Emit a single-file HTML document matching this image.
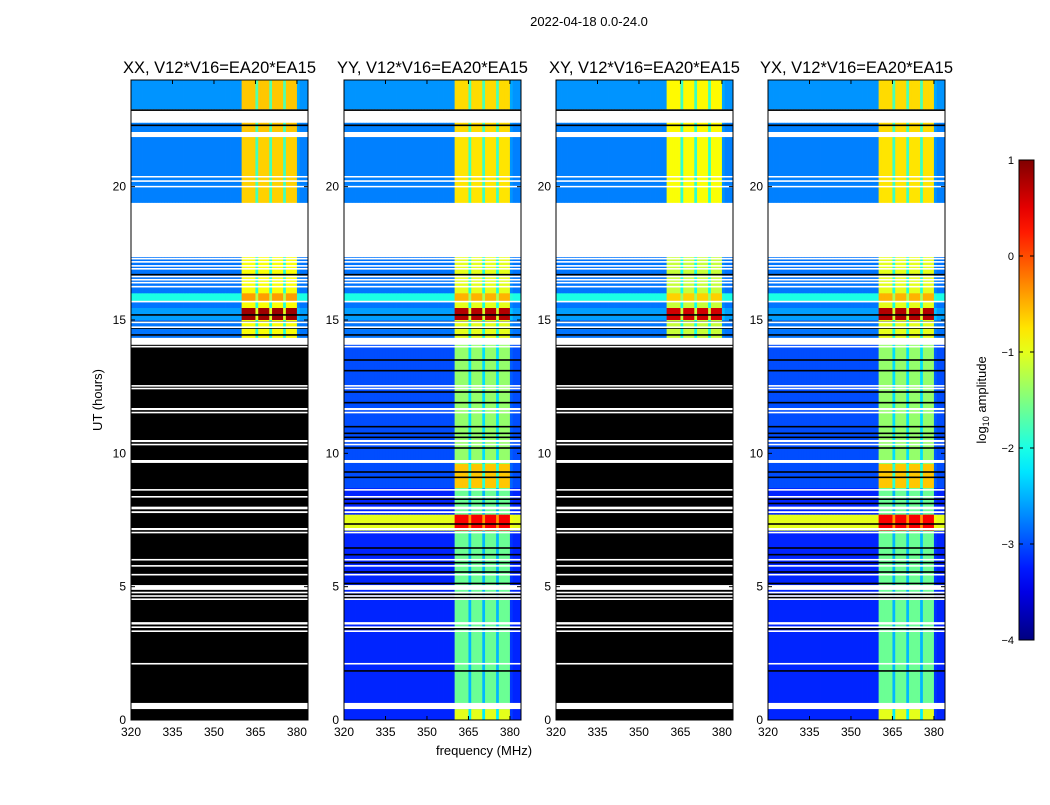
<!DOCTYPE html>
<html><head><meta charset="utf-8">
<style>
body{margin:0;background:#fff;}
svg text{font-family:"Liberation Sans",sans-serif;}
</style></head>
<body>
<svg id="fig" width="1050" height="800" xmlns="http://www.w3.org/2000/svg">
<rect width="1050" height="800" fill="#fff"/>
<text x="589" y="26" font-size="13" text-anchor="middle">2022-04-18 0.0-24.0</text>
<text transform="translate(102,400) rotate(-90)" font-size="13" text-anchor="middle">UT (hours)</text>
<text x="484" y="755" font-size="13" text-anchor="middle">frequency (MHz)</text>
<g id="panels"></g>
<g id="cbar"></g>
</svg>
<script>
const NS="http://www.w3.org/2000/svg";
// ---- data ----
const panelTitles=["XX, V12*V16=EA20*EA15","YY, V12*V16=EA20*EA15","XY, V12*V16=EA20*EA15","YX, V12*V16=EA20*EA15"];
const panelLeft=[131,344,556,768];
const panelBlackLow=[true,false,true,false];
const panelBandShift=[0.1,0,-0.15,0];
const freqTicks=[320,335,350,365,380];
const timeTicks=[0,5,10,15,20];
const cbarTicks=[1,0,-1,-2,-3,-4];
// spectral shape per 1 MHz channel 320..383 (0 = background, 1 = RFI band)
const bandShape=[0,0,0,0,0,0,0,0,0,0, 0,0,0,0,0,0,0,0,0,0, 0,0,0,0,0,0,0,0,0,0, 0,0,0,0,0,0,0,0,0,0,
 1,1,1,1,1,0.45,1,1,1,1, 0.45,1,1,1,1,0.45,1,1,1,1, 0.05,0,0,0];
// data segments: [t0, t1, background log-amp, band log-amp]
const segT0=[0, 0,   7.1, 8.7, 9.6, 14.3, 15.7, 15.0, 19.39, 22.05, 22.9];
const segT1=[14.3,0.4,7.7, 9.6, 14.3,17.36,16.0, 15.45,22.0, 22.4, 24];
const segBg=[-3.2,-3.2,-1.0,-3.0,-3.0,-2.8,-2.0,-2.6,-2.75,-2.75,-2.65];
const segBand=[-1.6,-1.0,0.4,-0.6,-1.4,-1.0,-0.5,0.75,-0.75,-0.7,-0.7];
// flagged (white) time ranges
const whiteT0=[0.41,2.08,3.30,3.45,3.58,4.50,4.62,4.75,4.88,5.42,5.75,5.98,7.00,7.12,7.76,7.90,8.34,8.60,9.64,10.30,10.42,11.50,11.62,12.40,12.50,13.97,14.07,14.70,14.88,15.66,16.22,16.37,16.48,16.60,16.89,17.00,17.15,17.27,17.36,19.98,20.18,20.36,21.86,22.40];
const whiteT1=[0.64,2.14,3.36,3.51,3.67,4.56,4.68,4.81,5.06,5.48,5.81,6.04,7.06,7.20,7.83,8.00,8.40,8.66,9.75,10.36,10.50,11.56,11.70,12.46,12.56,14.03,14.33,14.76,14.94,15.72,16.28,16.43,16.54,16.66,16.95,17.06,17.21,17.33,19.39,20.03,20.24,20.40,22.05,22.65];
// thin black (zero) time lines
const blackT=[1.84,3.42,4.59,4.71,5.12,5.55,5.9,6.2,6.45,7.35,8.12,8.28,9.1,9.3,10.2,10.6,10.75,11.0,11.9,12.3,13.1,13.5,14.44,14.7,14.92,15.19,16.7,22.3,22.87];

// ---- geometry ----
const topY=80,botY=720,pw=177;
const fMin=320,fMax=384;
function yOf(t){return botY-(t/24)*(botY-topY);}
function xOf(p,f){return panelLeft[p]+(f-fMin)/(fMax-fMin)*pw;}
function jet(v){let x=(v+4)/5;x=Math.max(0,Math.min(1,x));
 const c=a=>Math.round(255*Math.max(0,Math.min(1,1.5-Math.abs(4*x-a))));
 return `rgb(${c(3)},${c(2)},${c(1)})`;}
function mk(tag,attrs,parent){const e=document.createElementNS(NS,tag);for(const k in attrs)e.setAttribute(k,attrs[k]);parent.appendChild(e);return e;}

const G=document.getElementById('panels');
for(let p=0;p<4;p++){
 const g=mk('g',{},G);
 
 
 const L=panelLeft[p];
 const clip=mk('clipPath',{id:'c'+p},g);mk('rect',{x:L,y:topY,width:pw,height:botY-topY},clip);
 const hm=mk('g',{'clip-path':'url(#c'+p+')'},g);
 
 
 for(let s=0;s<segT0.length;s++){
  const y0=yOf(segT1[s]),y1=yOf(segT0[s]);
  for(let c=0;c<bandShape.length;c++){
   const f=fMin+c;
   const band=segBand[s]+panelBandShift[p];
   const v=segBg[s]+bandShape[c]*(band-segBg[s]);
   const r=mk('rect',{x:xOf(p,f),y:y0,width:xOf(p,f+1)-xOf(p,f)+0.4,height:y1-y0,fill:jet(v)},hm);
   
   
  }
 }
 if(panelBlackLow[p]){mk('rect',{x:L,y:yOf(14.3),width:pw,height:yOf(0)-yOf(14.3),fill:'#000'},hm);}
 for(const t of blackT){mk('rect',{x:L,y:yOf(t)-0.8,width:pw,height:1.6,fill:'#000'},hm);}
 for(let i=0;i<whiteT0.length;i++){mk('rect',{x:L,y:yOf(whiteT1[i]),width:pw,height:Math.max(1.5,yOf(whiteT0[i])-yOf(whiteT1[i])),fill:'#fff'},hm);}
 mk('rect',{x:L,y:topY,width:pw,height:botY-topY,fill:'none',stroke:'#000','stroke-width':1},g);
 const tt=mk('text',{x:L+pw/2,y:73,'font-size':16.5,'text-anchor':'middle'},g);tt.textContent=panelTitles[p];
 
 
 for(const f of freqTicks){const x=xOf(p,f);
  mk('line',{x1:x,x2:x,y1:botY,y2:botY-4,stroke:'#000'},g);mk('line',{x1:x,x2:x,y1:topY,y2:topY+4,stroke:'#000'},g);
  const l=mk('text',{x:x,y:botY+16,'font-size':12,'text-anchor':'middle'},g);l.textContent=f;
  
  }
 for(const t of timeTicks){const y=yOf(t);
  mk('line',{x1:L,x2:L+4,y1:y,y2:y,stroke:'#000'},g);mk('line',{x1:L+pw,x2:L+pw-4,y1:y,y2:y,stroke:'#000'},g);
  const l=mk('text',{x:L-5,y:y+4,'font-size':12,'text-anchor':'end'},g);l.textContent=t;
  
  }
}
// colorbar
const CB=document.getElementById('cbar');
const defs=mk('defs',{},CB);
const grad=mk('linearGradient',{id:'jetg',x1:0,y1:1,x2:0,y2:0},defs);
for(let i=0;i<=20;i++){mk('stop',{offset:i/20,'stop-color':jet(-4+5*i/20)},grad);}
const cy0=160,cy1=640,cx=1019,cw=15;
mk('rect',{x:cx,y:cy0,width:cw,height:cy1-cy0,fill:'url(#jetg)',stroke:'#000'},CB);
for(const v of cbarTicks){const y=cy1-(v+4)/5*(cy1-cy0);
 mk('line',{x1:cx,x2:cx+4,y1:y,y2:y,stroke:'#000'},CB);mk('line',{x1:cx+cw,x2:cx+cw-4,y1:y,y2:y,stroke:'#000'},CB);
 const l=mk('text',{x:cx-5,y:y+4,'font-size':11,'text-anchor':'end'},CB);l.textContent=v<0?'\u2212'+(-v):v;
 
 }
const cl=mk('text',{transform:'translate(986,400) rotate(-90)','font-size':13,'text-anchor':'middle'},CB);
cl.innerHTML='log<tspan font-size="9" dy="3">10</tspan><tspan dy="-3"> amplitude</tspan>';


</script>
</body></html>
